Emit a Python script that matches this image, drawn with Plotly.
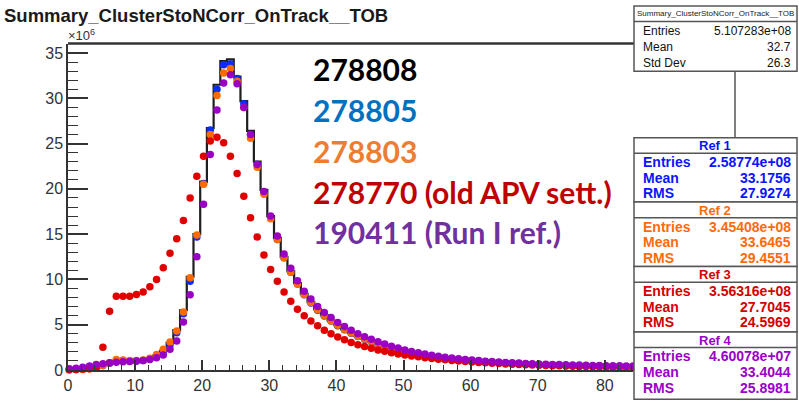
import numpy as np
import plotly.graph_objects as go

# ---------------- data (values in units of 10^6) ----------------
run_278808 = [0.05, 0.1, 0.15, 0.25, 0.4, 0.55, 0.75, 0.95, 1.0, 1.0,
              1.05, 1.1, 1.3, 1.6, 2.1, 3.0, 4.4, 6.6, 10.3, 15.0,
              20.8, 26.7, 31.5, 34.1, 34.3, 32.4, 29.7, 26.4, 23.0, 19.9,
              17.0, 14.6, 12.5, 10.9, 9.6, 8.4, 7.5, 6.7, 6.05, 5.45,
              4.95, 4.5, 4.1, 3.75, 3.45, 3.17, 2.92, 2.68, 2.46, 2.27,
              2.09, 1.93, 1.79, 1.66, 1.54, 1.43, 1.34, 1.25, 1.17, 1.10,
              1.03, 0.97, 0.92, 0.87, 0.82, 0.78, 0.74, 0.71, 0.67, 0.64,
              0.61, 0.59, 0.56, 0.54, 0.52, 0.50, 0.48, 0.46, 0.45, 0.43,
              0.42, 0.40, 0.39, 0.38, 0.37]
run_278805 = [0.02, 0.05, 0.08, 0.2, 0.35, 0.5, 0.75, 1.05, 1.05, 1.0,
              1.0, 1.05, 1.25, 1.6, 2.1, 2.8, 4.1, 6.2, 9.8, 14.7,
              20.6, 26.5, 31.0, 33.7, 33.8, 32.2, 29.4, 26.0, 22.7, 19.6,
              16.8, 14.4, 12.4, 10.8, 9.5, 8.3, 7.4, 6.6, 5.95, 5.4,
              4.9, 4.45, 4.05, 3.7, 3.4, 3.13, 2.88, 2.65, 2.43, 2.24,
              2.07, 1.91, 1.77, 1.64, 1.52, 1.42, 1.32, 1.24, 1.16, 1.09,
              1.02, 0.96, 0.91, 0.86, 0.81, 0.77, 0.73, 0.70, 0.66, 0.63,
              0.60, 0.58, 0.55, 0.53, 0.51, 0.49, 0.47, 0.45, 0.44, 0.42,
              0.41, 0.39, 0.38, 0.37, 0.36]
run_278803 = [0.0, 0.05, 0.05, 0.15, 0.3, 0.5, 0.8, 1.15, 1.1, 1.05,
              1.05, 1.1, 1.3, 1.7, 2.3, 3.1, 4.3, 6.4, 10.2, 14.9,
              20.5, 26.0, 30.3, 32.8, 33.3, 31.9, 29.0, 25.6, 22.4, 19.4,
              16.7, 14.4, 12.4, 10.8, 9.5, 8.35, 7.45, 6.65, 6.0, 5.42,
              4.93, 4.48, 4.08, 3.73, 3.43, 3.15, 2.9, 2.67, 2.45, 2.26,
              2.08, 1.92, 1.78, 1.65, 1.53, 1.43, 1.33, 1.25, 1.17, 1.10,
              1.03, 0.97, 0.92, 0.87, 0.82, 0.78, 0.74, 0.71, 0.67, 0.64,
              0.61, 0.59, 0.56, 0.54, 0.52, 0.50, 0.48, 0.46, 0.45, 0.43,
              0.42, 0.40, 0.39, 0.38, 0.37]
run_278770 = [0.05, 0.05, 0.1, 0.15, 0.25, 2.5, 6.5, 8.15, 8.15, 8.15,
              8.35, 8.6, 9.2, 10.0, 11.3, 12.9, 14.5, 16.5, 19.0, 21.4,
              23.6, 25.3, 25.7, 25.1, 23.6, 21.7, 19.2, 16.8, 14.7, 12.7,
              11.1, 9.8, 8.6, 7.6, 6.7, 6.0, 5.4, 4.9, 4.4, 4.0,
              3.65, 3.35, 3.05, 2.8, 2.6, 2.4, 2.22, 2.06, 1.91, 1.78,
              1.66, 1.55, 1.45, 1.36, 1.27, 1.19, 1.12, 1.05, 0.99, 0.93,
              0.88, 0.83, 0.79, 0.75, 0.71, 0.67, 0.64, 0.61, 0.58, 0.55,
              0.53, 0.50, 0.48, 0.46, 0.44, 0.42, 0.40, 0.39, 0.37, 0.36,
              0.34, 0.33, 0.32, 0.31, 0.30]
run_190411 = [0.15, 0.2, 0.3, 0.45, 0.6, 0.7, 0.8, 0.85, 0.9, 0.95,
              1.0, 1.05, 1.15, 1.35, 1.65, 2.3, 3.2, 5.3, 8.3, 12.5,
              18.3, 23.8, 28.7, 31.7, 32.6, 31.6, 29.0, 26.0, 22.7, 19.7,
              17.0, 14.8, 12.8, 11.25, 9.85, 8.7, 7.85, 7.0, 6.35, 5.8,
              5.25, 4.8, 4.38, 4.0, 3.68, 3.4, 3.12, 2.87, 2.63, 2.42,
              2.22, 2.05, 1.9, 1.76, 1.63, 1.52, 1.42, 1.33, 1.25, 1.17,
              1.10, 1.04, 0.98, 0.93, 0.88, 0.84, 0.80, 0.76, 0.73, 0.70,
              0.67, 0.64, 0.62, 0.60, 0.58, 0.56, 0.54, 0.52, 0.51, 0.49,
              0.48, 0.47, 0.46, 0.45, 0.44]

legend_labels = ["278808", "278805", "278803", "278770 (old APV sett.)", "190411 (Run I ref.)"]
legend_colors = ["#000000", "#0070C0", "#ED7D31", "#C00000", "#7030A0"]

main_stats = [("Entries", "5.107283e+08"), ("Mean", "32.7"), ("Std Dev", "26.3")]
ref_names = ["Ref 1", "Ref 2", "Ref 3", "Ref 4"]
ref_entries = ["2.58774e+08", "3.45408e+08", "3.56316e+08", "4.60078e+07"]
ref_means = ["33.1756", "33.6465", "27.7045", "33.4044"]
ref_rms = ["27.9274", "29.4551", "24.5969", "25.8981"]
ref_colors = ["#0a14ff", "#ff6a0a", "#d40000", "#9a00c8"]

x_ticks = [0, 10, 20, 30, 40, 50, 60, 70, 80]
y_ticks = [0, 5, 10, 15, 20, 25, 30, 35]

# ---------------- geometry helpers ----------------
PX_L, PX_R, PX_T, PX_B = 68, 633, 44, 378
W, H = 799, 406


def xp(px):
    return (px - PX_L) / (PX_R - PX_L)


def yp(py):
    return (PX_B - py) / (PX_B - PX_T)


centers = np.arange(len(run_278808)) + 0.2

fig = go.Figure()
fig.add_trace(go.Scatter(x=centers, y=run_278808, mode="lines",
                         line=dict(shape="hvh", color="#1e1e1e", width=2.2),
                         showlegend=False))
marker_sets = [(run_278805, "#0a2cff"), (run_278803, "#ff6a00"),
               (run_278770, "#e00000"), (run_190411, "#9900c4")]
for vals, col in marker_sets:
    fig.add_trace(go.Scatter(x=centers, y=vals, mode="markers",
                             marker=dict(size=7.5, color=col, line=dict(width=0)),
                             cliponaxis=False, showlegend=False))

font_axis = dict(family="Liberation Sans, Arial", size=16, color="#333333")
fig.update_layout(
    width=W, height=H,
    margin=dict(l=PX_L, r=W - PX_R, t=PX_T, b=H - PX_B),
    paper_bgcolor="white", plot_bgcolor="white",
    xaxis=dict(range=[0, 84.2], tickvals=x_ticks, ticks="inside", ticklen=10,
               tickwidth=1.5, tickcolor="#333", showline=True, linecolor="#333",
               linewidth=1.5, showgrid=False, zeroline=False, tickfont=font_axis,
               minor=dict(dtick=2, ticks="inside", ticklen=5, tickwidth=1.2,
                          tickcolor="#333")),
    yaxis=dict(range=[0, 36], tickvals=y_ticks, ticks="inside", ticklen=20,
               tickwidth=1.5, tickcolor="#333", showline=True, linecolor="#333",
               linewidth=1.5, showgrid=False, zeroline=False, tickfont=font_axis,
               minor=dict(dtick=1, ticks="inside", ticklen=10, tickwidth=1.2,
                          tickcolor="#333")),
)

shapes = []
annots = []

# frame top line
shapes.append(dict(type="line", xref="paper", yref="paper", x0=xp(68), x1=xp(634),
                   y0=yp(43.5), y1=yp(43.5), line=dict(color="#333", width=2.5)))

# title
annots.append(dict(text="<b>Summary_ClusterStoNCorr_OnTrack__TOB</b>", xref="paper", yref="paper",
                   x=xp(2), y=yp(15), xanchor="left", yanchor="middle", showarrow=False,
                   font=dict(family="Liberation Sans, Arial", size=18.5, color="#1a1a1a")))
annots.append(dict(text="×10<sup>6</sup>", xref="paper", yref="paper",
                   x=xp(66), y=yp(35), xanchor="left", yanchor="middle", showarrow=False,
                   font=dict(family="Liberation Sans, Arial", size=13, color="#333")))

# big legend text
leg_y = [70, 112, 154, 196, 237]
for lab, col, py in zip(legend_labels, legend_colors, leg_y):
    annots.append(dict(text="<b>" + lab + "</b>", xref="paper", yref="paper",
                       x=xp(311), y=yp(py), xanchor="left", yanchor="middle",
                       showarrow=False,
                       font=dict(family="Lato, Open Sans", size=30, color=col)))

# stat boxes
BX0, BX1 = 634, 797
box_line = dict(color="#555", width=1.5)
# main box
shapes.append(dict(type="rect", xref="paper", yref="paper", x0=xp(BX0), x1=xp(BX1),
                   y0=yp(72), y1=yp(5), fillcolor="white", line=box_line, layer="above"))
shapes.append(dict(type="line", xref="paper", yref="paper", x0=xp(BX0), x1=xp(BX1),
                   y0=yp(21), y1=yp(21), line=box_line, layer="above"))
annots.append(dict(text="Summary_ClusterStoNCorr_OnTrack__TOB", xref="paper", yref="paper",
                   x=xp((BX0 + BX1) / 2), y=yp(13), xanchor="center", yanchor="middle",
                   showarrow=False,
                   font=dict(family="Liberation Sans, Arial", size=8, color="#222")))
for (lab, val), py in zip(main_stats, [31, 47, 63]):
    annots.append(dict(text=lab, xref="paper", yref="paper", x=xp(641), y=yp(py),
                       xanchor="left", yanchor="middle", showarrow=False,
                       font=dict(family="Liberation Sans, Arial", size=12, color="#111")))
    annots.append(dict(text=val, xref="paper", yref="paper", x=xp(793), y=yp(py),
                       xanchor="right", yanchor="middle", showarrow=False,
                       font=dict(family="Liberation Sans, Arial", size=12, color="#111")))
# connector
shapes.append(dict(type="line", xref="paper", yref="paper", x0=xp(735), x1=xp(735),
                   y0=yp(72), y1=yp(140), line=box_line, layer="above"))

tops = [140, 206, 272, 339]
for i, top in enumerate(tops):
    bot = tops[i + 1] if i + 1 < len(tops) else 408
    col = ref_colors[i]
    shapes.append(dict(type="rect", xref="paper", yref="paper", x0=xp(BX0), x1=xp(BX1),
                       y0=yp(bot), y1=yp(top), fillcolor="white", line=box_line, layer="above"))
    shapes.append(dict(type="line", xref="paper", yref="paper", x0=xp(BX0), x1=xp(BX1),
                       y0=yp(top + 16), y1=yp(top + 16), line=box_line, layer="above"))
    annots.append(dict(text="<b>" + ref_names[i] + "</b>", xref="paper", yref="paper",
                       x=xp((BX0 + BX1) / 2), y=yp(top + 8.5), xanchor="center",
                       yanchor="middle", showarrow=False,
                       font=dict(family="Liberation Sans, Arial", size=13, color=col)))
    rows = [("Entries", ref_entries[i]), ("Mean", ref_means[i]), ("RMS", ref_rms[i])]
    for j, (lab, val) in enumerate(rows):
        py = top + 25 + 16 * j
        annots.append(dict(text="<b>" + lab + "</b>", xref="paper", yref="paper",
                           x=xp(641), y=yp(py), xanchor="left", yanchor="middle",
                           showarrow=False,
                           font=dict(family="Liberation Sans, Arial", size=14, color=col)))
        annots.append(dict(text="<b>" + val + "</b>", xref="paper", yref="paper",
                           x=xp(793), y=yp(py), xanchor="right", yanchor="middle",
                           showarrow=False,
                           font=dict(family="Liberation Sans, Arial", size=14, color=col)))

fig.update_layout(shapes=shapes, annotations=annots)
fig.write_html("out.html")
